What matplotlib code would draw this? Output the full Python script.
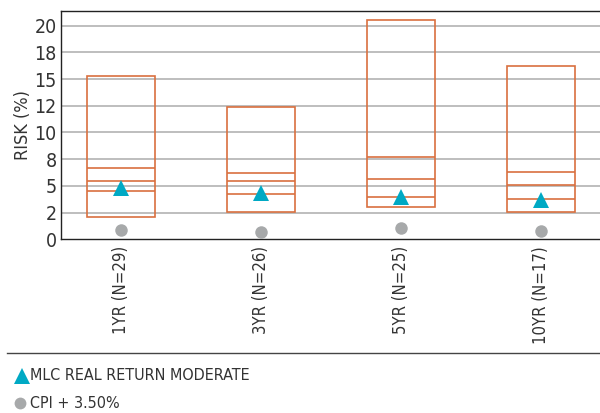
import matplotlib
matplotlib.use("Agg")
import matplotlib.pyplot as plt
from matplotlib.lines import Line2D
import numpy as np

# ---- data ----
categories = ["1YR (N=29)", "3YR (N=26)", "5YR (N=25)", "10YR (N=17)"]
risk_min = [2.06, 2.58, 3.00, 2.58]
risk_q1 = [4.49, 4.21, 3.99, 3.75]
risk_med = [5.49, 5.49, 5.62, 5.08]
risk_q3 = [6.70, 6.18, 7.68, 6.33]
risk_max = [15.32, 12.36, 20.50, 16.23]
fund_risk = [4.82, 4.32, 4.00, 3.70]
cpi_risk = [0.85, 0.73, 1.04, 0.79]
y_ticks = [0, 2.5, 5, 7.5, 10, 12.5, 15, 17.5, 20]
y_tick_labels = ["0", "2", "5", "8", "10", "12", "15", "18", "20"]
legend_labels = ["MLC REAL RETURN MODERATE", "CPI + 3.50%"]

plt.rcParams["font.family"] = ["DejaVu Sans"]
plt.rcParams["font.stretch"] = "condensed"
TXT = "#333333"
ORANGE = "#d9703f"
TEAL = "#00a9c4"
GREY = "#a7a9aa"
GRID = "#b3b3b3"

fig = plt.figure(figsize=(6.0, 4.13), dpi=100)
ax = fig.add_axes([61 / 600, 1 - 239.3 / 413, 1 - 61 / 600, (239.3 - 10.7) / 413])

x = np.arange(len(categories))
w = 0.486

# boxes
ax.bar(x, np.array(risk_max) - np.array(risk_min), bottom=risk_min, width=w,
       facecolor="none", edgecolor=ORANGE, linewidth=1.2, zorder=2)
for arr in (risk_q1, risk_med, risk_q3):
    ax.hlines(arr, x - w / 2, x + w / 2, color=ORANGE, linewidth=1.2, zorder=2)

# gridlines
for t in y_ticks[1:]:
    ax.axhline(t, color=GRID, linewidth=1.2, zorder=1.5)

ax.plot(x, fund_risk, linestyle="none", marker="^", markersize=12,
        color=TEAL, markeredgewidth=0, zorder=4)
ax.plot(x, cpi_risk, linestyle="none", marker="o", markersize=9,
        color=GREY, markeredgewidth=0, zorder=4)

ax.set_xlim(-0.431, 3.419)
ax.set_ylim(0, 21.4)
ax.set_yticks(y_ticks)
ax.set_yticklabels(y_tick_labels)
ax.set_xticks(x)
ax.set_xticklabels(categories, rotation=90)
ax.tick_params(axis="x", length=0, labelsize=12, colors=TXT, pad=5)
ax.tick_params(axis="y", length=0, labelsize=14, colors=TXT, pad=3)
ax.set_ylabel("RISK (%)", fontsize=13, color=TXT)
ax.yaxis.set_label_coords(-0.054, 0.5)

for s in ("left", "bottom", "top"):
    ax.spines[s].set_color("#222222")
    ax.spines[s].set_linewidth(1.0)
ax.spines["right"].set_visible(False)

# separator and legend
fig.add_artist(Line2D([7 / 600, 1.0], [1 - 353.3 / 413] * 2, color="#444444", linewidth=1.0))
fig.add_artist(Line2D([21.5 / 600], [1 - 376 / 413], marker="^", markersize=11,
                      color=TEAL, markeredgewidth=0, linestyle="none"))
fig.add_artist(Line2D([20 / 600], [1 - 403 / 413], marker="o", markersize=8.5,
                      color=GREY, markeredgewidth=0, linestyle="none"))
fig.text(30 / 600, 1 - 376 / 413, legend_labels[0], fontsize=11.5, color=TXT, va="center", ha="left")
fig.text(30 / 600, 1 - 403 / 413, legend_labels[1], fontsize=11.5, color=TXT, va="center", ha="left")

fig.savefig("out.png", dpi=100)
